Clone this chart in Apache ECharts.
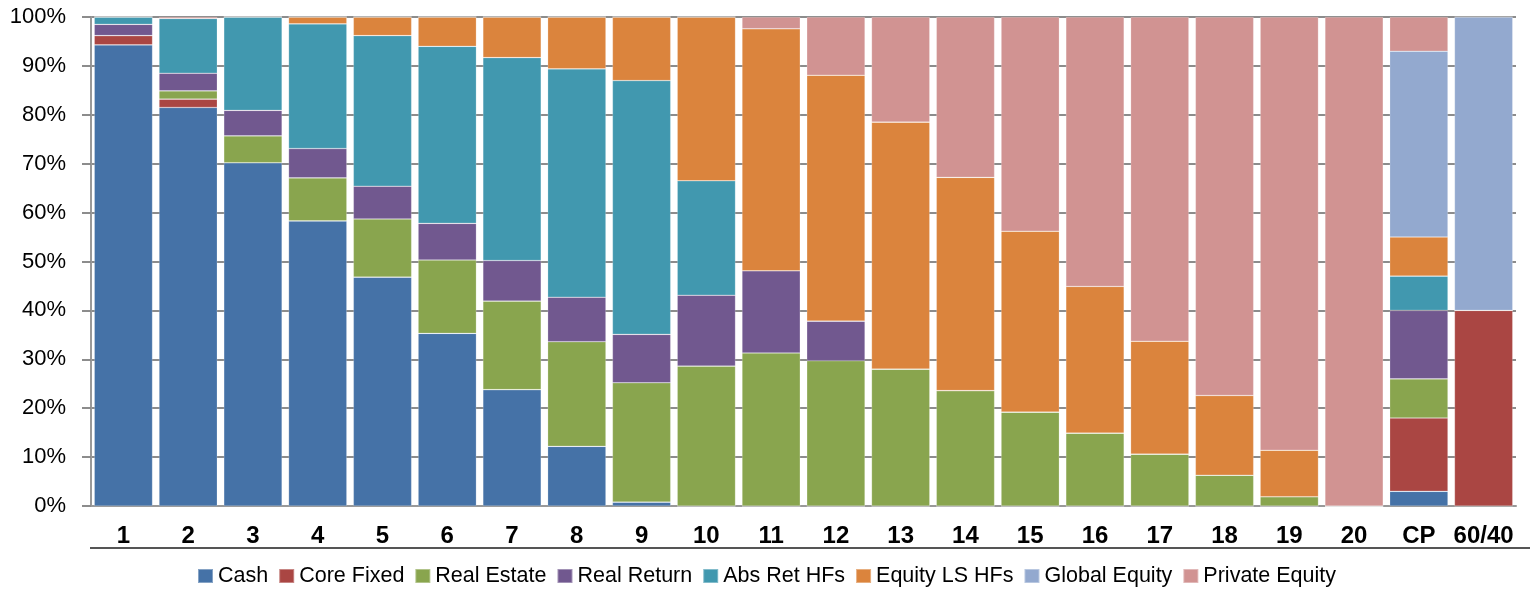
<!DOCTYPE html>
<html>
<head>
<meta charset="utf-8">
<script src="https://cdn.jsdelivr.net/npm/echarts@6/dist/echarts.min.js"></script>
<style>
  html, body { margin: 0; padding: 0; background: #fff; }
  #chart { width: 1533px; height: 592px; }
</style>
</head>
<body>
<div id="chart"></div>
<script>
// Portfolio labels along the x axis
const portfolios = ['1','2','3','4','5','6','7','8','9','10','11','12','13','14','15','16','17','18','19','20','CP','60/40'];

// Allocation weights (%) per asset class, one value per portfolio
const cash          = [94.3, 81.5, 70.2, 58.3, 46.8, 35.3, 23.8, 12.2, 0.8, 0, 0, 0, 0, 0, 0, 0, 0, 0, 0, 0, 3, 0];
const coreFixed     = [1.9, 1.7, 0, 0, 0, 0, 0, 0, 0, 0, 0, 0, 0, 0, 0, 0, 0, 0, 0, 0, 15, 40];
const realEstate    = [0, 1.7, 5.5, 8.8, 11.9, 15.0, 18.1, 21.4, 24.4, 28.6, 31.3, 29.7, 28.0, 23.6, 19.2, 14.9, 10.6, 6.3, 1.9, 0, 8, 0];
const realReturn    = [2.3, 3.6, 5.2, 6.0, 6.7, 7.5, 8.3, 9.1, 9.9, 14.5, 16.8, 8.1, 0, 0, 0, 0, 0, 0, 0, 0, 14, 0];
const absRetHFs     = [1.5, 11.2, 19.1, 25.5, 30.8, 36.2, 41.5, 46.7, 51.9, 23.4, 0, 0, 0, 0, 0, 0, 0, 0, 0, 0, 7, 0];
const equityLSHFs   = [0, 0, 0, 1.4, 3.8, 6.0, 8.3, 10.6, 13.0, 33.5, 49.5, 50.3, 50.5, 43.6, 37.0, 30.0, 23.1, 16.3, 9.5, 0, 8, 0];
const globalEquity  = [0, 0, 0, 0, 0, 0, 0, 0, 0, 0, 0, 0, 0, 0, 0, 0, 0, 0, 0, 0, 38, 60];
const privateEquity = [0, 0.3, 0, 0, 0, 0, 0, 0, 0, 0, 2.4, 11.9, 21.5, 32.8, 43.8, 55.1, 66.3, 77.4, 88.6, 100, 7, 0];

const assetNames  = ['Cash', 'Core Fixed', 'Real Estate', 'Real Return', 'Abs Ret HFs', 'Equity LS HFs', 'Global Equity', 'Private Equity'];
const assetValues = [cash, coreFixed, realEstate, realReturn, absRetHFs, equityLSHFs, globalEquity, privateEquity];
const assetColors = ['#4572A7', '#AA4643', '#89A54E', '#71588F', '#4198AF', '#DB843D', '#93A9CF', '#D19392'];

const chart = echarts.init(document.getElementById('chart'), null, { renderer: 'canvas' });

const FONT = '"Liberation Sans", Arial, sans-serif';

const series = assetNames.map((name, i) => ({
  name: name,
  type: 'bar',
  stack: 'alloc',
  barCategoryGap: '10%',
  data: assetValues[i],
  itemStyle: {
    color: assetColors[i],
    borderColor: 'rgba(255,255,255,0.35)',
    borderWidth: 0.6
  },
  emphasis: { disabled: true }
}));

chart.setOption({
  animation: false,
  color: assetColors,
  grid: { left: 91, right: 17, top: 17, bottom: 86, containLabel: false },
  legend: {
    bottom: 5,
    left: 'center',
    padding: 0,
    icon: 'rect',
    itemWidth: 15,
    itemHeight: 14,
    itemGap: 10,
    textStyle: { fontFamily: FONT, fontSize: 21.5, color: '#000', padding: [0, 0, 0, 0] },
    data: assetNames
  },
  // rule beneath the category labels
  graphic: [{
    type: 'line',
    silent: true,
    shape: { x1: 90, y1: 548, x2: 1530, y2: 548 },
    style: { stroke: '#555', lineWidth: 2 }
  }],
  xAxis: {
    type: 'category',
    data: portfolios,
    axisLine: { show: true, lineStyle: { color: '#999', width: 2 } },
    axisTick: { show: false },
    axisLabel: {
      fontFamily: FONT,
      fontWeight: 'bold',
      fontSize: 24,
      color: '#000',
      margin: 18,
      interval: 0
    }
  },
  yAxis: {
    type: 'value',
    min: 0,
    max: 100,
    interval: 10,
    axisLine: { show: true, lineStyle: { color: '#999', width: 2 } },
    axisTick: { show: true, length: 9, lineStyle: { color: '#8c8c8c', width: 2 } },
    splitLine: { show: true, lineStyle: { color: '#8c8c8c', width: 2 } },
    axisLabel: {
      formatter: '{value}%',
      fontFamily: FONT,
      fontSize: 22,
      color: '#000',
      margin: 25
    }
  },
  series: series
});
</script>
</body>
</html>
